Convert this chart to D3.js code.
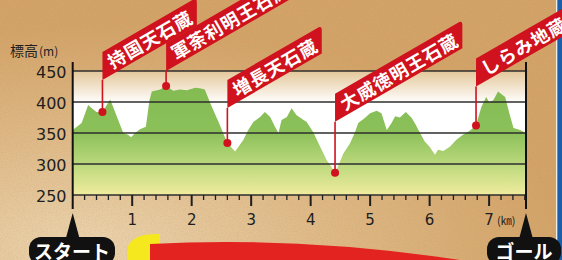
<!DOCTYPE html>
<html>
<head>
<meta charset="utf-8">
<script src="https://cdn.jsdelivr.net/npm/d3@7"></script>
<style>
html, body { margin: 0; padding: 0; overflow: hidden; background: #d9ae76; }
</style>
</head>
<body>
<svg id="chart" width="562" height="260"></svg>
<script>
// elevation profile along the course (km, metres)
var km = [0.00, 0.07, 0.15, 0.26, 0.32, 0.40, 0.50, 0.63, 0.68, 0.85, 0.93, 0.98, 1.05, 1.13, 1.23,
          1.29, 1.33, 1.47, 1.57, 1.69, 1.80, 1.92, 2.06, 2.14, 2.22, 2.34, 2.45, 2.55, 2.60, 2.73,
          2.87, 2.95, 3.04, 3.15, 3.23, 3.32, 3.40, 3.46, 3.51, 3.60, 3.68, 3.76, 3.88, 3.93, 4.04,
          4.16, 4.27, 4.35, 4.41, 4.48, 4.55, 4.66, 4.74, 4.80, 4.91, 5.00, 5.11, 5.19, 5.28, 5.36,
          5.42, 5.50, 5.60, 5.70, 5.75, 5.84, 5.92, 6.00, 6.09, 6.14, 6.23, 6.34, 6.45, 6.56, 6.68,
          6.78, 6.82, 6.87, 6.95, 7.00, 7.07, 7.15, 7.27, 7.34, 7.41, 7.52, 7.62];
var elev = [355, 360, 366, 395, 390, 384, 384, 404, 392, 350, 347, 343, 350, 356, 360,
            403, 417, 420, 426, 418, 420, 419, 423, 422, 420, 392, 368, 345, 334, 320,
            339, 355, 368, 376, 384, 376, 360, 350, 371, 376, 390, 379, 371, 368, 352,
            328, 306, 295, 286, 301, 317, 333, 350, 366, 374, 382, 386, 382, 355, 366,
            377, 375, 384, 374, 366, 350, 336, 328, 315, 323, 321, 328, 339, 347, 354,
            362, 376, 392, 408, 400, 403, 417, 408, 382, 358, 355, 350];

// stone statues along the way
var spotNames = ["持国天石蔵", "軍荼利明王石蔵", "増長天石蔵", "大威徳明王石蔵", "しらみ地蔵"];
var spotKm = [0.50, 1.57, 2.60, 4.41, 6.78];
var spotElev = [384, 426, 334, 286, 362];

var yTicks = [250, 300, 350, 400, 450];
var xTicks = [1, 2, 3, 4, 5, 6, 7];
var courseEnd = 7.62;

// how far each flag sits above its dot (px)
var flagRise = [32, 15, 35, 51, 39];

var svg = d3.select("#chart");
var defs = svg.append("defs");

var x = d3.scaleLinear().domain([0, courseEnd]).range([72.7, 526]);
var y = d3.scaleLinear().domain([250, 450]).range([195, 71]);

// paper background
var bg = defs.append("radialGradient").attr("id", "paper")
    .attr("cx", 0.15).attr("cy", 0.95).attr("r", 0.85);
bg.append("stop").attr("offset", 0).attr("stop-color", "#ecd4ae");
bg.append("stop").attr("offset", 0.55).attr("stop-color", "#deb783");
bg.append("stop").attr("offset", 1).attr("stop-color", "#d3a367");

var noise = defs.append("filter").attr("id", "grain");
noise.append("feTurbulence").attr("type", "fractalNoise")
    .attr("baseFrequency", 0.8).attr("numOctaves", 2).attr("seed", 3);
noise.append("feColorMatrix").attr("type", "matrix")
    .attr("values", "0 0 0 0 0.45  0 0 0 0 0.3  0 0 0 0 0.15  0 0 0 -1.2 0.75");

svg.append("rect").attr("width", 562).attr("height", 260).attr("fill", "url(#paper)");
svg.append("rect").attr("width", 562).attr("height", 260)
    .attr("filter", "url(#grain)").attr("opacity", 0.35);

// blue edge on the right
svg.append("rect").attr("x", 556).attr("y", 0).attr("width", 1.2).attr("height", 260).attr("fill", "#f4efe6");
svg.append("rect").attr("x", 557.5).attr("y", 0).attr("width", 5).attr("height", 260).attr("fill", "#1d5ea8");

// plot background: tan fading into white
var sky = defs.append("linearGradient").attr("id", "sky")
    .attr("gradientUnits", "userSpaceOnUse")
    .attr("x1", 0).attr("y1", y(450)).attr("x2", 0).attr("y2", y(250));
sky.append("stop").attr("offset", 0).attr("stop-color", "#e4c79a");
sky.append("stop").attr("offset", 0.26).attr("stop-color", "#ffffff");
sky.append("stop").attr("offset", 1).attr("stop-color", "#ffffff");

svg.append("rect")
    .attr("x", x(0)).attr("y", y(450))
    .attr("width", x(courseEnd) - x(0)).attr("height", y(250) - y(450))
    .attr("fill", "url(#sky)");

// green area
var grass = defs.append("linearGradient").attr("id", "grass")
    .attr("gradientUnits", "userSpaceOnUse")
    .attr("x1", 0).attr("y1", y(450)).attr("x2", 0).attr("y2", y(250));
grass.append("stop").attr("offset", 0).attr("stop-color", "#80b950");
grass.append("stop").attr("offset", 0.5).attr("stop-color", "#8cc15a");
grass.append("stop").attr("offset", 0.75).attr("stop-color", "#bad87c");
grass.append("stop").attr("offset", 1).attr("stop-color", "#f1ec9e");

var profile = km.map(function(k, i) { return [k, elev[i]]; });

var area = d3.area()
    .x(function(d) { return x(d[0]); })
    .y0(y(250))
    .y1(function(d) { return y(d[1]); });

svg.append("path").datum(profile).attr("d", area).attr("fill", "url(#grass)");

// grid lines
svg.append("g").selectAll("line")
    .data(yTicks).enter().append("line")
    .attr("x1", x(0)).attr("x2", x(courseEnd))
    .attr("y1", function(d) { return y(d); })
    .attr("y2", function(d) { return y(d); })
    .attr("stroke", "#2e2e2e").attr("stroke-width", 1.3);

// y labels
svg.append("g").selectAll("text")
    .data(yTicks).enter().append("text")
    .attr("x", 66.5)
    .attr("y", function(d) { return y(d) + 1; })
    .attr("text-anchor", "end")
    .attr("dominant-baseline", "central")
    .attr("font-family", "DejaVu Sans")
    .attr("font-size", 16)
    .attr("fill", "#1e1e1e")
    .text(function(d) { return d; });

svg.append("text").attr("x", 10).attr("y", 56)
    .attr("font-family", "Noto Sans CJK JP").attr("font-size", 14).attr("fill", "#1e1e1e")
    .text("標高")
    .append("tspan").attr("font-size", 12).attr("dx", 1).text("(m)");

// side lines
svg.append("line").attr("x1", x(0)).attr("x2", x(0)).attr("y1", 62).attr("y2", 209)
    .attr("stroke", "#111").attr("stroke-width", 2);
svg.append("line").attr("x1", x(courseEnd)).attr("x2", x(courseEnd)).attr("y1", 62).attr("y2", 209)
    .attr("stroke", "#111").attr("stroke-width", 2);

// x ticks
var minor = d3.range(0.2, courseEnd, 0.2).filter(function(d) { return Math.abs(d - Math.round(d)) > 0.05; });
svg.append("g").selectAll("line")
    .data(minor).enter().append("line")
    .attr("x1", function(d) { return x(d); }).attr("x2", function(d) { return x(d); })
    .attr("y1", y(250)).attr("y2", y(250) + 5)
    .attr("stroke", "#1e1e1e").attr("stroke-width", 1.3);
svg.append("g").selectAll("line")
    .data(xTicks).enter().append("line")
    .attr("x1", function(d) { return x(d); }).attr("x2", function(d) { return x(d); })
    .attr("y1", y(250)).attr("y2", y(250) + 11)
    .attr("stroke", "#1e1e1e").attr("stroke-width", 2);
svg.append("g").selectAll("text")
    .data(xTicks).enter().append("text")
    .attr("x", function(d) { return x(d); })
    .attr("y", 220)
    .attr("text-anchor", "middle")
    .attr("dominant-baseline", "central")
    .attr("font-family", "DejaVu Sans")
    .attr("font-size", 15)
    .attr("fill", "#1e1e1e")
    .text(function(d) { return d; });
svg.append("text").attr("x", x(7) + 8).attr("y", 220)
    .attr("dominant-baseline", "central")
    .attr("font-family", "Noto Sans CJK JP").attr("font-size", 11).attr("fill", "#1e1e1e")
    .text("(㎞)");

// flags
var angle = 30 * Math.PI / 180;
var tanA = Math.tan(angle);
var flagH = 28;

var spots = svg.append("g").selectAll("g")
    .data(spotNames).enter().append("g");

spots.each(function(name, i) {
    var g = d3.select(this);
    var px = x(spotKm[i]), py = y(spotElev[i]);
    var yb = py - flagRise[i];

    var label = g.append("text")
        .attr("font-family", "Noto Sans CJK JP")
        .attr("font-weight", 700)
        .attr("font-size", 18)
        .attr("letter-spacing", 1)
        .attr("fill", "#fff")
        .attr("dominant-baseline", "central")
        .text(name);
    var len = label.node().getComputedTextLength() + 14;
    var w = len * Math.cos(angle);
    var xr = px + w;
    var r = 5;
    var trY = yb - flagH - w * tanA;
    var d = "M" + px + "," + yb +
        "L" + px + "," + (yb - flagH) +
        "L" + (xr - r * Math.cos(angle)) + "," + (trY + r * Math.sin(angle)) +
        "Q" + xr + "," + trY + " " + xr + "," + (trY + r) +
        "L" + xr + "," + (yb - w * tanA) + "Z";
    g.insert("path", "text").attr("d", d).attr("fill", "#d0121e");

    var s = 7;
    var tx = px + s * Math.cos(angle), ty = yb - flagH / 2 - s * Math.sin(angle);
    label.attr("transform", "translate(" + tx + "," + ty + ") rotate(-30)");

    g.insert("line", "path").attr("x1", px).attr("x2", px).attr("y1", py).attr("y2", yb)
        .attr("stroke", "#d0121e").attr("stroke-width", 1.6);
    g.append("circle").attr("cx", px).attr("cy", py).attr("r", 4).attr("fill", "#d0121e");
});

// start / goal markers
function pointer(cx, text, x0, x1) {
    svg.append("path")
        .attr("d", "M" + cx + ",213 L" + (cx - 7) + ",239 L" + (cx + 7) + ",239 Z")
        .attr("fill", "#111");
    svg.append("rect").attr("x", x0).attr("y", 237).attr("width", x1 - x0).attr("height", 28)
        .attr("rx", 12).attr("fill", "#111");
    svg.append("text").attr("x", (x0 + x1) / 2).attr("y", 250)
        .attr("text-anchor", "middle").attr("dominant-baseline", "central")
        .attr("font-family", "Noto Sans CJK JP").attr("font-weight", 700).attr("font-size", 19)
        .attr("fill", "#fff").text(text);
}
pointer(x(0), "スタート", 29, 115);
pointer(x(courseEnd), "ゴール", 487, 561);

// red banner peeking in at the bottom
svg.append("path").attr("d", "M128,260 L128,246 Q134,233 160,234 L160,260 Z").attr("fill", "#f5e81e");
svg.append("path").attr("d", "M150,260 L150,244 Q300,236 460,260 Z").attr("fill", "#e3231f");
</script>
</body>
</html>
